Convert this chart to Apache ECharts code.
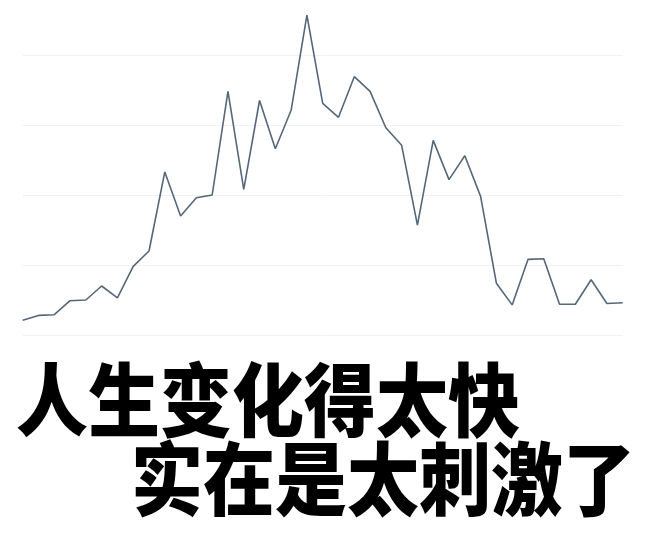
<!DOCTYPE html>
<html>
<head>
<meta charset="utf-8">
<script src="https://cdn.jsdelivr.net/npm/echarts@6/dist/echarts.min.js"></script>
<style>html,body{margin:0;padding:0;background:#fff;}#main{width:650px;height:535px;}</style>
</head>
<body>
<div id="main"></div>
<script>
var categories = [];
for (var i = 1; i <= 39; i++) categories.push(String(i));
var values = [21, 28, 29, 49, 50, 70, 53, 98, 120, 233, 170, 196, 200, 348, 208, 335, 266, 321, 457, 331,
              311, 369, 348, 296, 271, 157, 278, 222, 256, 198, 74, 43, 108, 109, 44, 44, 79, 45, 46];
var line1 = '人生变化得太快';
var line2 = '实在是太刺激了';

var chart = echarts.init(document.getElementById('main'));
chart.setOption({
  animation: false,
  grid: { left: 22.7, right: 27.3, top: 55, bottom: 200 },
  xAxis: {
    type: 'category', data: categories, boundaryGap: false,
    axisLine: { show: false }, axisTick: { show: false }, axisLabel: { show: false }
  },
  yAxis: {
    type: 'value', min: 0, max: 400, interval: 100,
    axisLine: { show: false }, axisTick: { show: false }, axisLabel: { show: false },
    splitLine: { lineStyle: { color: '#f2f2f2', width: 1 } }
  },
  series: [{
    type: 'line', data: values, symbol: 'none', clip: false,
    lineStyle: { color: '#56677a', width: 1.6 }
  }],
  graphic: [
    { type: 'text', x: 16, y: 360, scaleY: 1.1, style: { text: line1, font: '900 72px "Noto Sans CJK SC"', fill: '#000' } },
    { type: 'text', x: 131, y: 439, scaleY: 1.1, style: { text: line2, font: '900 72px "Noto Sans CJK SC"', fill: '#000' } }
  ]
});
</script>
</body>
</html>
